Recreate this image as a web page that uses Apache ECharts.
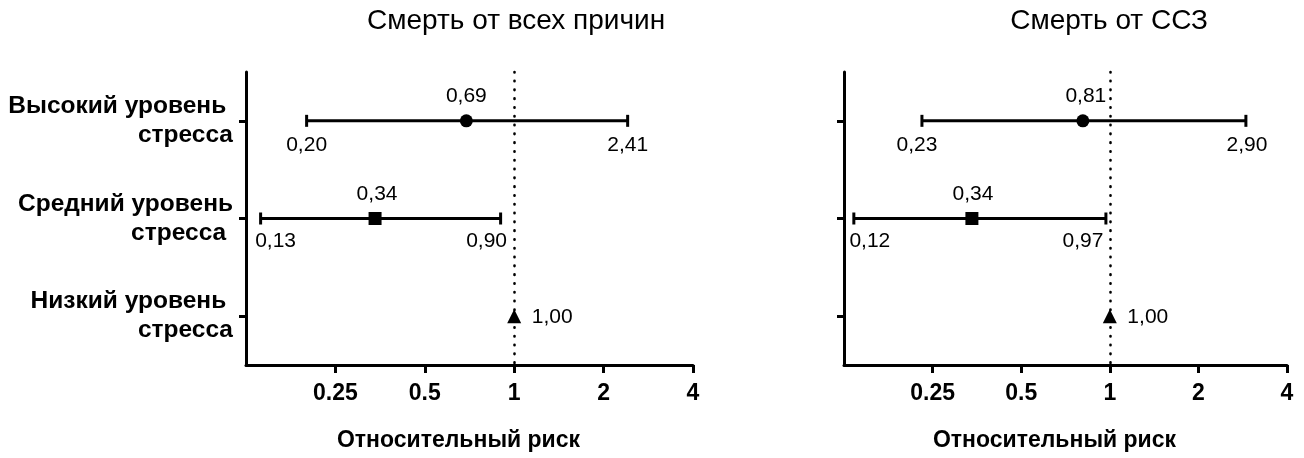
<!DOCTYPE html>
<html>
<head>
<meta charset="utf-8">
<script src="https://cdn.jsdelivr.net/npm/echarts@6/dist/echarts.min.js"></script>
<style>
  html, body { margin: 0; padding: 0; background: #fff; }
  #chart { width: 1304px; height: 458px; }
</style>
</head>
<body>
<div id="chart"></div>
<script>
// ---- data ----
const categories = ['Высокий уровень \nстресса', 'Средний уровень\nстресса ', 'Низкий уровень \nстресса'];
const panelTitles = ['Смерть от всех причин', 'Смерть от ССЗ'];
const axisTitle = 'Относительный риск';
const xTickValues = [0.25, 0.5, 1, 2, 4];
const xTickLabels = ['0.25', '0.5', '1', '2', '4'];

// all-cause mortality
const allRR = [0.69, 0.34, 1.00];
const allLow = [0.20, 0.14, null];
const allHigh = [2.41, 0.90, null];
const allRRLabels = ['0,69', '0,34', '1,00'];
const allLowLabels = ['0,20', '0,13', null];
const allHighLabels = ['2,41', '0,90', null];

// CVD mortality
const cvdRR = [0.81, 0.34, 1.00];
const cvdLow = [0.23, 0.135, null];
const cvdHigh = [2.90, 0.97, null];
const cvdRRLabels = ['0,81', '0,34', '1,00'];
const cvdLowLabels = ['0,23', '0,12', null];
const cvdHighLabels = ['2,90', '0,97', null];

// ---- styling ----
const FONT = "'Liberation Sans', Arial, sans-serif";
const markerShapes = ['circle', 'rect', 'triangle'];
const markerSizes = [13, 13, 14];
const nudges = [
  { rr: [[0, -25], [2, -24], [38, 1]], low: [[0, 24], [15, 23]], high: [[0, 24], [-14, 23]] },
  { rr: [[3, -25], [1, -24], [38, 1]], low: [[-5, 24], [16, 23]], high: [[1, 24], [-23, 23]] }
];
const grids = [
  { left: 246, top: 72, width: 447, height: 293 },
  { left: 844, top: 72, width: 443, height: 293 }
];

const labelText = { fontSize: 21, color: '#000', fontFamily: FONT };

function tickFormatter(v) {
  for (let i = 0; i < xTickValues.length; i++) {
    if (Math.abs(v - xTickValues[i]) < 1e-6) return xTickLabels[i];
  }
  return '';
}

function buildPanel(p, rr, low, high, rrLabels, lowLabels, highLabels) {
  const n = nudges[p];
  const series = [];
  const barData = [];
  low.forEach((l, i) => { if (l != null) barData.push([l, high[i], i]); });
  series.push({
    type: 'custom',
    xAxisIndex: p, yAxisIndex: p,
    encode: { x: [0, 1], y: 2 },
    data: barData,
    z: 3,
    renderItem: function (params, api) {
      const yi = api.value(2);
      const a = api.coord([api.value(0), yi]);
      const b = api.coord([api.value(1), yi]);
      const h = 6;
      const st = { stroke: '#000', lineWidth: 3 };
      return {
        type: 'group',
        children: [
          { type: 'line', shape: { x1: a[0], y1: a[1], x2: b[0], y2: b[1] }, style: st },
          { type: 'line', shape: { x1: a[0], y1: a[1] - h, x2: a[0], y2: a[1] + h }, style: st },
          { type: 'line', shape: { x1: b[0], y1: b[1] - h, x2: b[0], y2: b[1] + h }, style: st }
        ]
      };
    }
  });
  // point estimates + dotted reference line at 1
  series.push({
    type: 'scatter',
    xAxisIndex: p, yAxisIndex: p,
    z: 5,
    data: rr.map((v, i) => ({
      value: [v, i],
      symbol: markerShapes[i],
      symbolSize: markerSizes[i],
      itemStyle: { color: '#000', opacity: 1 },
      label: { show: true, position: 'inside', offset: n.rr[i], formatter: rrLabels[i], ...labelText }
    })),
    markLine: {
      silent: true,
      symbol: 'none',
      z: 2,
      label: { show: false },
      lineStyle: { color: '#000', width: 2.6, type: [0.5, 8.3], cap: 'round', opacity: 1 },
      data: [{ xAxis: 1 }]
    }
  });
  // CI bound labels
  const boundSeries = (vals, labels, nd) => ({
    type: 'scatter',
    xAxisIndex: p, yAxisIndex: p,
    z: 4,
    symbolSize: 1,
    itemStyle: { color: 'rgba(0,0,0,0)', opacity: 1 },
    data: vals.map((v, i) => v == null ? null : ({
      value: [v, i],
      label: { show: true, position: 'inside', offset: nd[i], formatter: labels[i], ...labelText }
    })).filter(d => d != null)
  });
  series.push(boundSeries(low, lowLabels, n.low));
  series.push(boundSeries(high, highLabels, n.high));
  return series;
}

function xAxisFor(p) {
  return {
    gridIndex: p,
    type: 'log',
    logBase: 2,
    min: 0.125,
    max: 4,
    axisLine: { show: true, lineStyle: { color: '#000', width: 3 } },
    axisTick: { show: true, length: 8, lineStyle: { color: '#000', width: 3 }, customValues: xTickValues },
    axisLabel: { customValues: xTickValues, formatter: tickFormatter, fontSize: 23, fontWeight: 'bold', color: '#000', margin: 17, fontFamily: FONT },
    splitLine: { show: false },
    minorTick: { show: false },
    name: axisTitle,
    nameLocation: 'middle',
    nameGap: 64,
    nameTextStyle: { fontSize: 23, fontWeight: 'bold', color: '#000', fontFamily: FONT, padding: [0, 22, 0, 0] }
  };
}

function yAxisFor(p) {
  return {
    gridIndex: p,
    type: 'category',
    data: categories,
    inverse: true,
    axisLine: { show: true, lineStyle: { color: '#000', width: 3 } },
    axisTick: { show: true, alignWithLabel: true, length: 7, lineStyle: { color: '#000', width: 3 } },
    axisLabel: {
      show: p === 0,
      fontSize: 24.5, fontWeight: 'bold', lineHeight: 29, color: '#000', margin: 13, fontFamily: FONT,
      padding: [5, 0, 0, 0]
    },
    splitLine: { show: false }
  };
}

const chart = echarts.init(document.getElementById('chart'), null, { renderer: 'canvas' });
chart.setOption({
  animation: false,
  backgroundColor: '#fff',
  textStyle: { fontFamily: FONT },
  title: [
    { text: panelTitles[0], left: 367, top: 7, padding: 0, textStyle: { fontSize: 28, fontWeight: 'normal', color: '#000', fontFamily: FONT, lineHeight: 28 } },
    { text: panelTitles[1], right: 96, top: 7, padding: 0, textStyle: { fontSize: 28, fontWeight: 'normal', color: '#000', fontFamily: FONT, lineHeight: 28 } }
  ],
  grid: grids.map(g => ({ ...g, containLabel: false, outerBoundsMode: 'none' })),
  xAxis: [xAxisFor(0), xAxisFor(1)],
  yAxis: [yAxisFor(0), yAxisFor(1)],
  series: [
    ...buildPanel(0, allRR, allLow, allHigh, allRRLabels, allLowLabels, allHighLabels),
    ...buildPanel(1, cvdRR, cvdLow, cvdHigh, cvdRRLabels, cvdLowLabels, cvdHighLabels)
  ]
});
</script>
</body>
</html>
